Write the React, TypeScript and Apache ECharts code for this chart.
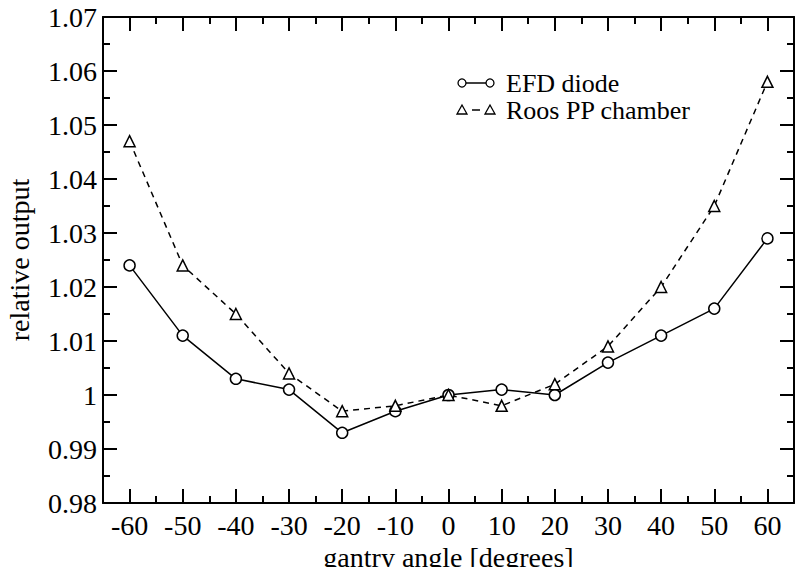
import React, { useEffect, useRef } from "react";
import * as echarts from "echarts";

const angles = [-60, -50, -40, -30, -20, -10, 0, 10, 20, 30, 40, 50, 60];
const efdDiode = [1.024, 1.011, 1.003, 1.001, 0.993, 0.997, 1.0, 1.001, 1.0, 1.006, 1.011, 1.016, 1.029];
const roosPP = [1.047, 1.024, 1.015, 1.004, 0.997, 0.998, 1.0, 0.998, 1.002, 1.009, 1.02, 1.035, 1.058];
const seriesNames = ["EFD diode", "Roos PP chamber"];

const FONT = "Liberation Serif";
const INK = "#000000";

function ticks() {
  return {
    axisLine: { show: true, onZero: false, lineStyle: { color: INK, width: 2 } },
    axisTick: { show: true, inside: true, length: 14, lineStyle: { color: INK, width: 2 } },
    minorTick: { show: true, splitNumber: 2, length: 7, lineStyle: { color: INK, width: 2 } },
    splitLine: { show: false },
    minorSplitLine: { show: false },
  };
}

export default function App() {
  const ref = useRef<HTMLDivElement>(null);
  useEffect(() => {
    if (!ref.current) return;
    document.body.style.margin = "0";
    const chart = echarts.init(ref.current, undefined, { renderer: "svg" });
    const lx = 462;
    const ly1 = 83;
    const ly2 = 110;
    chart.setOption({
      animation: false,
      grid: { left: 103, right: 2, top: 17, bottom: 64, outerBoundsMode: "none" },
      xAxis: [
        {
          type: "value", min: -65, max: 65, splitNumber: 13,
          ...ticks(),
          name: "gantry angle [degrees]", nameLocation: "middle", nameGap: 40, nameMoveOverlap: false,
          nameTextStyle: { color: INK, fontFamily: FONT, fontSize: 28 },
          axisLabel: { color: INK, fontFamily: FONT, fontSize: 28, margin: 8, showMinLabel: false, showMaxLabel: false },
        },
        {
          type: "value", min: -65, max: 65, splitNumber: 13, position: "top",
          ...ticks(),
          axisLabel: { show: false },
        },
      ],
      yAxis: [
        {
          type: "value", min: 0.98, max: 1.07, interval: 0.01,
          ...ticks(),
          name: "relative output", nameLocation: "middle", nameGap: 70, nameMoveOverlap: false,
          nameTextStyle: { color: INK, fontFamily: FONT, fontSize: 28 },
          axisLabel: { color: INK, fontFamily: FONT, fontSize: 28, margin: 6, formatter: (v: number) => String(parseFloat(v.toFixed(2))) },
        },
        {
          type: "value", min: 0.98, max: 1.07, interval: 0.01, position: "right",
          ...ticks(),
          axisLabel: { show: false },
        },
      ],
      series: [
        {
          name: seriesNames[0], type: "line",
          data: angles.map((a, i) => [a, efdDiode[i]]),
          symbol: "circle", symbolSize: 11,
          itemStyle: { color: "#fff", borderColor: INK, borderWidth: 1.5 },
          lineStyle: { color: INK, width: 1.5, type: "solid" },
        },
        {
          name: seriesNames[1], type: "line",
          data: angles.map((a, i) => [a, roosPP[i]]),
          symbol: "triangle", symbolSize: 11,
          itemStyle: { color: "#fff", borderColor: INK, borderWidth: 1.5 },
          lineStyle: { color: INK, width: 1.5, type: [6, 5] },
        },
      ],
      graphic: [
        { type: "line", shape: { x1: lx, y1: ly1, x2: lx + 28, y2: ly1 }, style: { stroke: INK, lineWidth: 1.5 } },
        { type: "circle", shape: { cx: lx, cy: ly1, r: 4 }, style: { fill: "#fff", stroke: INK, lineWidth: 1.3 } },
        { type: "circle", shape: { cx: lx + 28, cy: ly1, r: 4 }, style: { fill: "#fff", stroke: INK, lineWidth: 1.3 } },
        { type: "text", x: 506, y: ly1, style: { text: seriesNames[0], fill: INK, fontFamily: FONT, fontSize: 26, verticalAlign: "middle" } },
        { type: "line", shape: { x1: lx + 10, y1: ly2, x2: lx + 18, y2: ly2 }, style: { stroke: INK, lineWidth: 1.5 } },
        { type: "polygon", shape: { points: [[lx, ly2 - 5], [lx - 5, ly2 + 4], [lx + 5, ly2 + 4]] }, style: { fill: "#fff", stroke: INK, lineWidth: 1.3 } },
        { type: "polygon", shape: { points: [[lx + 28, ly2 - 5], [lx + 23, ly2 + 4], [lx + 33, ly2 + 4]] }, style: { fill: "#fff", stroke: INK, lineWidth: 1.3 } },
        { type: "text", x: 506, y: ly2, style: { text: seriesNames[1], fill: INK, fontFamily: FONT, fontSize: 26, verticalAlign: "middle" } },
      ],
    });
    return () => chart.dispose();
  }, []);
  return <div ref={ref} style={{ position: "absolute", left: 0, top: 0, width: 796, height: 567 }} />;
}
